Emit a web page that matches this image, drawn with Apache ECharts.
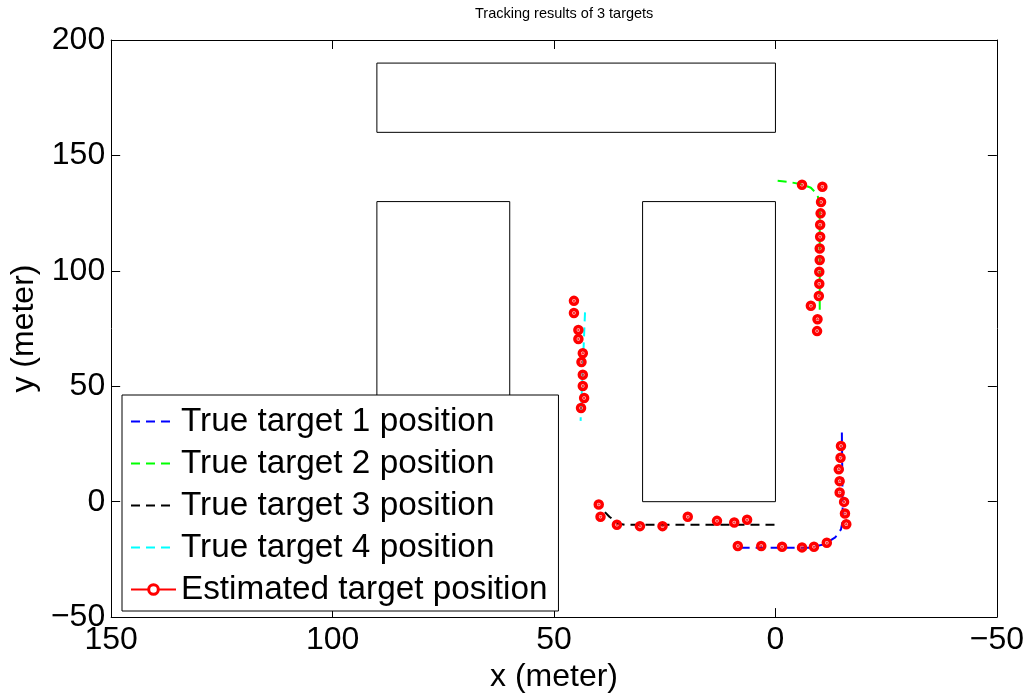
<!DOCTYPE html>
<html><head><meta charset="utf-8">
<script src="https://cdn.jsdelivr.net/npm/echarts@6/dist/echarts.min.js"></script>
<style>html,body{margin:0;padding:0;background:#fff;overflow:hidden}#c{width:1027px;height:698px}</style>
</head><body><div id="c"></div>
<script>
const titleText = 'Tracking results of 3 targets';
const xName = 'x (meter)';
const yName = 'y (meter)';
const seriesNames = ['True target 1 position','True target 2 position','True target 3 position','True target 4 position','Estimated target position'];
// obstacles: [xA, xB, yA, yB] in data units
const obstacles = [[0,90,160,190],[60,90,0,130],[0,30,0,130]];
const truth1 = [[-15,30],[-15.2,-8],[-14.8,-12],[-13.5,-15.5],[-11,-18.5],[-7.5,-20],[9,-20]];
const truth2 = [[-0.5,139],[-3,138.5],[-6,137.5],[-8,136],[-9.5,133],[-10,128],[-10,82]];
const truth3 = [[38.5,-4.5],[37.5,-6.5],[35.5,-9.5],[34,-10],[0,-10]];
const truth4 = [[43,82],[44,35]];
const est1 = [[-14.8,24.1],[-14.7,19.0],[-14.3,14.0],[-14.5,8.9],[-14.5,4.0],[-15.5,-0.1],[-15.7,-5.1],[-16.0,-9.8],[-11.6,-17.8],[-8.7,-19.5],[-6.0,-19.8],[-1.5,-19.5],[3.2,-19.2],[8.5,-19.2]];
const est2 = [[-6.0,137.3],[-10.6,136.4],[-10.3,129.8],[-10.2,124.9],[-10.1,120.0],[-10.1,114.8],[-10.0,109.7],[-10.0,104.7],[-9.9,99.6],[-9.9,94.4],[-9.8,89.1],[-8.0,84.9],[-9.5,79.0],[-9.4,73.9]];
const est3 = [[39.9,-1.2],[39.5,-6.5],[35.8,-10.0],[30.6,-10.6],[25.5,-10.6],[19.8,-6.5],[13.2,-8.3],[9.3,-9.0],[6.4,-7.8]];
const est4 = [[45.5,87.0],[45.5,81.7],[44.5,74.4],[44.5,70.5],[43.5,64.3],[43.8,60.5],[43.5,55.0],[43.5,50.1],[43.2,44.9],[43.9,40.6]];

const FONT = 'Liberation Sans, Arial, Helvetica, sans-serif';
const truthColors = ['#0000ff','#00ff00','#000000','#00ffff'];
const truths = [truth1, truth2, truth3, truth4];
const estimates = [].concat(est1, est2, est3, est4);

function rectPath(r){ return [[r[0],r[2]],[r[1],r[2]],[r[1],r[3]],[r[0],r[3]],[r[0],r[2]]]; }

const series = [];
obstacles.forEach((r,i)=>series.push({
  name:'obstacle'+i, type:'line', data:rectPath(r), symbol:'none', silent:true,
  lineStyle:{color:'#000', width:1}, z:1
}));
truths.forEach((t,i)=>series.push({
  name:seriesNames[i], type:'line', data:t, symbol:'none', smooth:false,
  lineStyle:{color:truthColors[i], width:2, type:[9,6]}, itemStyle:{color:truthColors[i]}, z:2
}));
series.push({
  name:seriesNames[4], type:'line', data:estimates, symbol:'circle', symbolSize:7, showSymbol:true,
  lineStyle:{opacity:0, width:0, color:'#ff0000'},
  itemStyle:{color:'rgba(255,255,255,0)', borderColor:'#ff0000', borderWidth:3.5}, z:3
});
series.push({
  name:'estdot', type:'scatter', data:estimates, symbol:'circle', symbolSize:2.5,
  itemStyle:{color:'#ff0000'}, silent:true, z:4
});

const axisCommon = {
  axisLine:{show:true, onZero:false, lineStyle:{color:'#000', width:1}},
  axisTick:{show:true, inside:true, length:9, lineStyle:{color:'#000', width:1}},
  splitLine:{show:false}
};
const fmt = v => String(v).replace('-', '\u2212');
const hiddenSym = {color:'rgba(0,0,0,0)', borderWidth:0, opacity:0};

const option = {
  animation:false,
  backgroundColor:'#fff',
  title:{text:titleText, left:470, top:1, textStyle:{fontSize:14.5, fontWeight:'normal', color:'#000', fontFamily:FONT}},
  grid:{left:110, top:40, width:893, height:578, containLabel:false},
  legend:{
    orient:'vertical', left:122, top:395,
    data:[
      {name:seriesNames[0], itemStyle:hiddenSym},
      {name:seriesNames[1], itemStyle:hiddenSym},
      {name:seriesNames[2], itemStyle:hiddenSym},
      {name:seriesNames[3], itemStyle:hiddenSym},
      {name:seriesNames[4], lineStyle:{opacity:1, width:2, color:'#ff0000', type:'solid'}, itemStyle:{color:'#ffffff', borderColor:'#ff0000', borderWidth:3}}
    ],
    itemWidth:45, itemHeight:12, itemGap:9,
    padding:[10,11,5,8],
    backgroundColor:'#fff', borderColor:'#000', borderWidth:1,
    textStyle:{fontSize:33.3, color:'#000', fontFamily:FONT},
    selectedMode:false
  },
  xAxis:[
    Object.assign({type:'value', min:-50, max:150, interval:50, inverse:true, position:'bottom',
      name:xName, nameLocation:'middle', nameGap:43,
      nameTextStyle:{fontSize:32, color:'#000', fontFamily:FONT},
      axisLabel:{fontSize:32, color:'#000', fontFamily:FONT, margin:7, formatter:fmt}}, axisCommon),
    Object.assign({type:'value', min:-50, max:150, interval:50, inverse:true, position:'top',
      axisLabel:{show:false}}, axisCommon)
  ],
  yAxis:[
    Object.assign({type:'value', min:-50, max:200, interval:50, position:'left',
      name:yName, nameLocation:'middle', nameGap:66,
      nameTextStyle:{fontSize:32, color:'#000', fontFamily:FONT},
      axisLabel:{fontSize:32, color:'#000', fontFamily:FONT, margin:6, formatter:fmt}}, axisCommon),
    Object.assign({type:'value', min:-50, max:200, interval:50, position:'right',
      axisLabel:{show:false}}, axisCommon)
  ],
  series:series
};
const chart = echarts.init(document.getElementById('c'), null, {renderer:'canvas'});
chart.setOption(option);
</script>
</body></html>
